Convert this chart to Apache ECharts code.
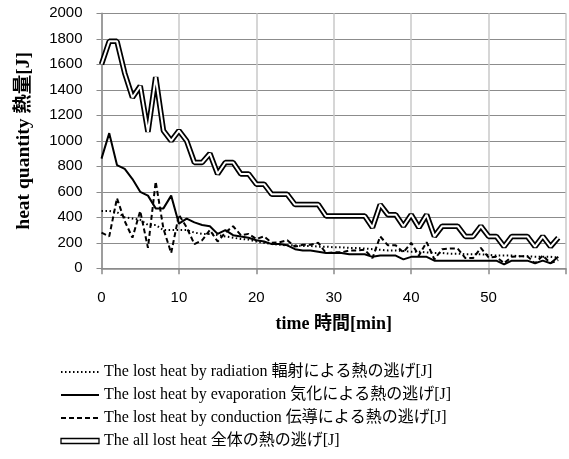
<!DOCTYPE html>
<html>
<head>
<meta charset="utf-8">
<script src="https://cdn.jsdelivr.net/npm/echarts@6/dist/echarts.min.js"></script>
<style>
  html, body { margin: 0; padding: 0; background: #fff; }
  #chart { width: 569px; height: 459px; }
</style>
</head>
<body>
<div id="chart"></div>
<script>
// Elapsed time [min]
const minutes = [
  0, 1, 2, 3, 4, 5, 6, 7, 8, 9,
  10, 11, 12, 13, 14, 15, 16, 17, 18, 19,
  20, 21, 22, 23, 24, 25, 26, 27, 28, 29,
  30, 31, 32, 33, 34, 35, 36, 37, 38, 39,
  40, 41, 42, 43, 44, 45, 46, 47, 48, 49,
  50, 51, 52, 53, 54, 55, 56, 57, 58, 59
];

// Heat lost by radiation [J]
const radiation = [
  450, 450, 440, 400, 390, 380, 340, 340, 300, 300,
  300, 300, 280, 270, 270, 260, 250, 240, 230, 225,
  210, 200, 190, 185, 180, 180, 175, 175, 170, 170,
  165, 165, 160, 160, 155, 150, 145, 140, 140, 135,
  130, 130, 125, 120, 120, 115, 115, 110, 110, 110,
  105, 100, 100, 100, 95, 95, 90, 90, 90, 85
];

// Heat lost by evaporation [J]
const evaporation = [
  860, 1060, 810, 780, 700, 600, 570, 470, 470, 570,
  350, 390, 360, 340, 330, 270, 300, 260, 250, 240,
  220, 210, 190, 190, 180, 150, 140, 140, 130, 120,
  120, 120, 110, 110, 110, 90, 100, 100, 100, 70,
  90, 90, 90, 60, 60, 60, 60, 60, 60, 60,
  60, 60, 30, 60, 60, 60, 40, 60, 40, 90
];

// Heat lost by conduction [J]
const conduction = [
  280, 250, 550, 370, 240, 450, 160, 680, 310, 120,
  420, 320, 190, 220, 300, 210, 280, 330, 260, 270,
  230, 250, 200, 205, 220, 170, 185, 185, 200, 120,
  125, 125, 140, 140, 145, 80, 250, 180, 180, 125,
  200, 100, 205, 70, 150, 155, 155, 80, 80, 160,
  85, 90, 40, 90, 95, 95, 40, 100, 40, 65
];

// All heat lost [J]
const totalLoss = [
  1600, 1780, 1780, 1530, 1340, 1430, 1070, 1500, 1080, 1000,
  1080, 1000, 830, 830, 900, 740, 830, 830, 740, 740,
  660, 660, 580, 580, 580, 500, 500, 500, 500, 410,
  410, 410, 410, 410, 410, 320, 500, 420, 420, 330,
  420, 320, 420, 250, 330, 330, 330, 250, 250, 330,
  250, 250, 170, 250, 250, 250, 170, 250, 170, 240
];

const NAME_RAD = 'The lost heat by radiation 輻射による熱の逃げ[J]';
const NAME_EVA = 'The lost heat by evaporation 気化による熱の逃げ[J]';
const NAME_CON = 'The lost heat by conduction 伝導による熱の逃げ[J]';
const NAME_ALL = 'The all lost heat 全体の熱の逃げ[J]';

const pairs = vals => minutes.map((m, i) => [m, vals[i]]);

const SERIF = "'Liberation Serif', 'Times New Roman', 'Noto Sans CJK JP', serif";
const SANS = "'Liberation Sans', Arial, sans-serif";
const AXIS_GREY = '#8a8a8a';

const chart = echarts.init(document.getElementById('chart'));

chart.setOption({
  animation: false,
  backgroundColor: '#fff',
  grid: { left: 101.5, right: 1, top: 13.3, bottom: 190.7, containLabel: false },
  xAxis: {
    type: 'value',
    min: 0, max: 60, interval: 10,
    name: 'time 時間[min]',
    nameLocation: 'middle',
    nameGap: 47,
    nameTextStyle: { fontFamily: SERIF, fontWeight: 'bold', fontSize: 18, color: '#000' },
    axisLine: { show: true, lineStyle: { color: AXIS_GREY, width: 1.5 } },
    axisTick: { show: true, length: 6, lineStyle: { color: AXIS_GREY, width: 1.5 } },
    axisLabel: {
      fontFamily: SANS, fontSize: 15, color: '#000', margin: 22,
      formatter: v => (v === 60 ? '' : String(v))
    },
    splitLine: { show: true, lineStyle: { color: '#c8c8c8', width: 1.5 } }
  },
  yAxis: {
    type: 'value',
    min: 0, max: 2000, interval: 200,
    name: 'heat quantity 熱量[J]',
    nameLocation: 'middle',
    nameGap: 68,
    nameTextStyle: { fontFamily: SERIF, fontWeight: 'bold', fontSize: 19.5, color: '#000' },
    axisLine: { show: true, lineStyle: { color: AXIS_GREY, width: 1.5 } },
    axisTick: { show: true, length: 5, lineStyle: { color: AXIS_GREY, width: 1 } },
    axisLabel: { fontFamily: SANS, fontSize: 15, color: '#000', margin: 19, formatter: v => String(v) },
    splitLine: { show: true, lineStyle: { color: '#8c8c8c', width: 1 } }
  },
  legend: {
    orient: 'vertical',
    left: 55,
    top: 359,
    itemWidth: 38,
    itemHeight: 5,
    itemGap: 7,
    itemStyle: { opacity: 0 },
    textStyle: { fontFamily: SERIF, fontSize: 16, lineHeight: 16, color: '#000' },
    data: [
      { name: NAME_RAD },
      { name: NAME_EVA },
      { name: NAME_CON },
      { name: NAME_ALL, icon: 'rect', itemStyle: { opacity: 1, color: '#fff', borderColor: '#000', borderWidth: 1.3 } }
    ]
  },
  series: [
    {
      name: NAME_ALL, type: 'line', data: pairs(totalLoss),
      symbol: 'none', z: 2,
      itemStyle: { color: '#000' },
      lineStyle: { color: '#000', width: 5.5 }
    },
    {
      name: 'total-core', type: 'line', data: pairs(totalLoss),
      symbol: 'none', z: 3, silent: true,
      itemStyle: { color: '#fff' },
      lineStyle: { color: '#fff', width: 2 }
    },
    {
      name: NAME_RAD, type: 'line', data: pairs(radiation),
      symbol: 'none', z: 4,
      itemStyle: { color: '#000' },
      lineStyle: { color: '#000', width: 2, type: [1.5, 2.5] }
    },
    {
      name: NAME_EVA, type: 'line', data: pairs(evaporation),
      symbol: 'none', z: 5,
      itemStyle: { color: '#000' },
      lineStyle: { color: '#000', width: 2 }
    },
    {
      name: NAME_CON, type: 'line', data: pairs(conduction),
      symbol: 'none', z: 6,
      itemStyle: { color: '#000' },
      lineStyle: { color: '#000', width: 2, type: [5, 3] }
    }
  ]
});
</script>
</body>
</html>
